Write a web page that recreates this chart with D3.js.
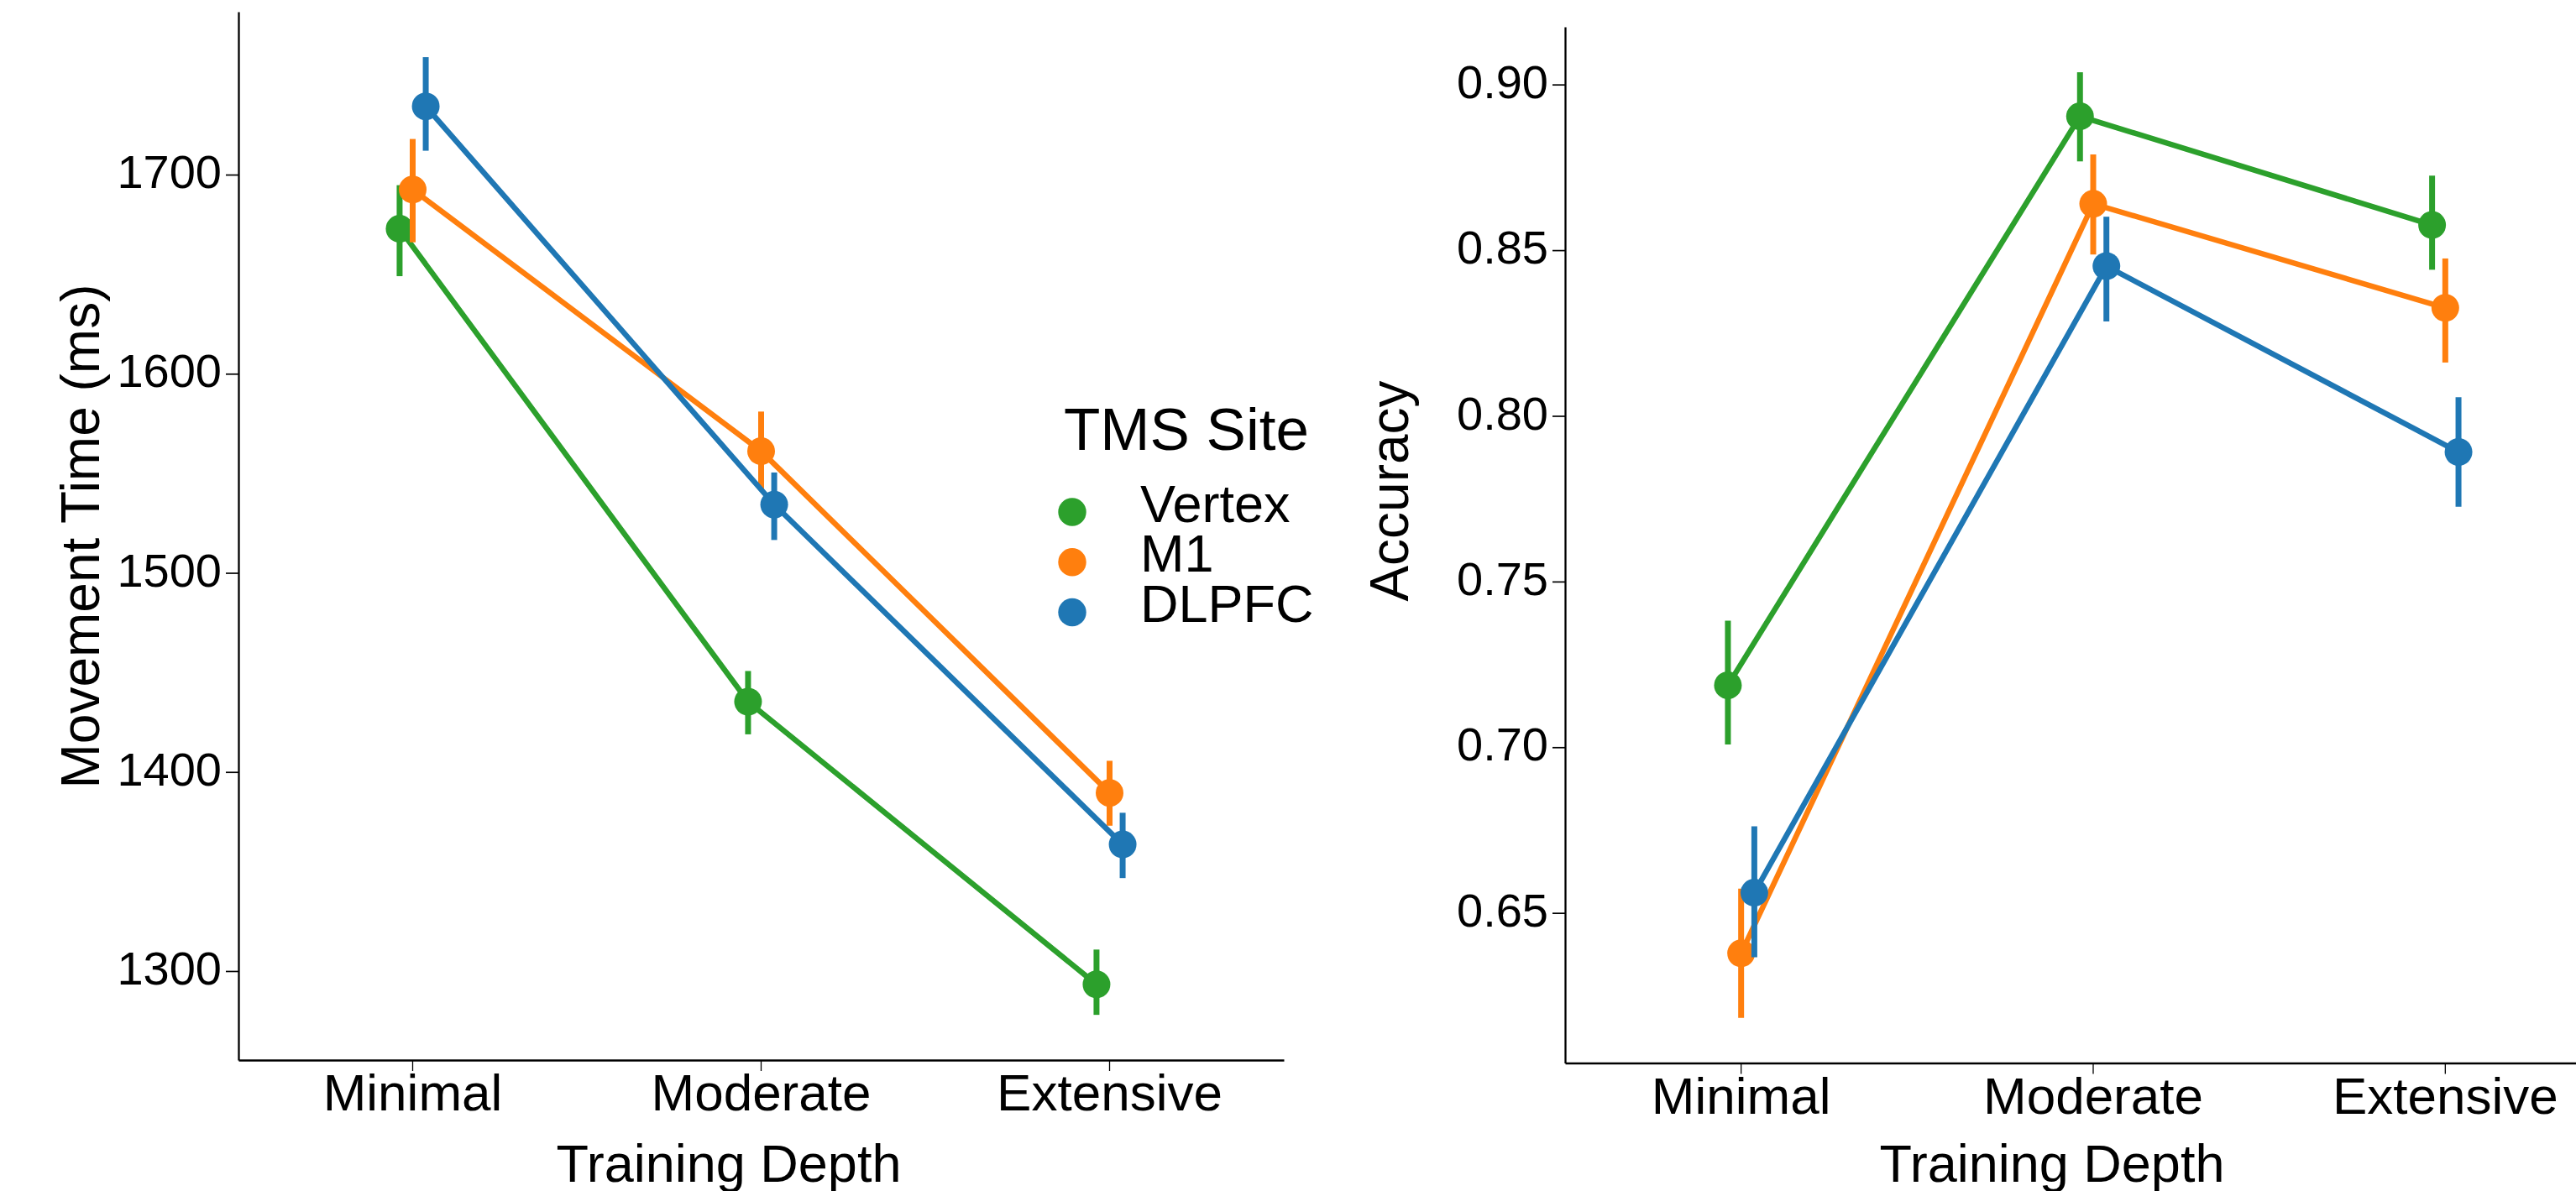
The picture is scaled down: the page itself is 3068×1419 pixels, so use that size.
<!DOCTYPE html>
<head>
    <meta charset="utf-8">
    <script src="https://d3js.org/d3.v7.min.js"></script>
    <style>
      body { margin: 0; background: #fff; }
      text { font-family: "Liberation Sans", Arial, sans-serif; fill: #000; }
    </style>
</head>

<body>
    <div id="chart"></div>
</body>

<script>

  // categories and series
  const depths = ["Minimal", "Moderate", "Extensive"];
  const sites = ["Vertex", "M1", "DLPFC"];
  const siteColors = ["#2ca02c", "#ff7f0e", "#1f77b4"];

  // movement time (ms): mean, lower and upper CI per site
  const mtMean = {
    Vertex: [1672.8, 1435.3, 1293.3],
    M1:     [1692.5, 1561.1, 1389.5],
    DLPFC:  [1734.3, 1534.3, 1363.6]
  };
  const mtLow = {
    Vertex: [1649.0, 1418.9, 1278.0],
    M1:     [1666.0, 1542.0, 1373.0],
    DLPFC:  [1712.0, 1516.5, 1346.7]
  };
  const mtHigh = {
    Vertex: [1694.7, 1450.7, 1310.8],
    M1:     [1717.9, 1581.0, 1405.6],
    DLPFC:  [1759.0, 1550.4, 1379.5]
  };

  // accuracy: mean, lower and upper CI per site
  const accMean = {
    Vertex: [0.7187, 0.8904, 0.8576],
    M1:     [0.6378, 0.8640, 0.8326],
    DLPFC:  [0.6561, 0.8452, 0.7891]
  };
  const accLow = {
    Vertex: [0.7008, 0.8768, 0.8441],
    M1:     [0.6183, 0.8487, 0.8161],
    DLPFC:  [0.6366, 0.8285, 0.7726]
  };
  const accHigh = {
    Vertex: [0.7382, 0.9037, 0.8725],
    M1:     [0.6573, 0.8789, 0.8475],
    DLPFC:  [0.6761, 0.8601, 0.8056]
  };

  // tick values
  const mtTicks = [1300, 1400, 1500, 1600, 1700];
  const accTicks = [0.65, 0.70, 0.75, 0.80, 0.85, 0.90];

  const W = 3068, H = 1419;
  const color = d3.scaleOrdinal().domain(sites).range(siteColors);

  const svg = d3.select("#chart")
    .append("svg")
    .attr("width", W)
    .attr("height", H);

  svg.append("rect").attr("width", W).attr("height", H).attr("fill", "#fff");

  function panel(opt) {
    const x = d3.scaleBand()
      .domain(depths)
      .range([opt.left, opt.right]);

    const y = d3.scaleLinear()
      .domain(opt.domain)
      .range([opt.bottom, opt.top]);

    const dodge = x.bandwidth() * 0.0375;
    const px = (c, s) => x(c) + x.bandwidth() / 2 + (sites.indexOf(s) - 1) * dodge;

    // X axis
    const gx = svg.append("g")
      .attr("transform", `translate(0, ${opt.bottom})`)
      .call(d3.axisBottom(x).tickSizeInner(13).tickSizeOuter(0).tickPadding(3));
    gx.select(".domain").attr("stroke-width", 2.3);
    gx.selectAll(".tick line").attr("stroke-width", 1.3);
    gx.selectAll("text")
      .style("font-size", "62px")
      .style("font-family", "'Liberation Sans', Arial, sans-serif");

    // Y axis
    const gy = svg.append("g")
      .attr("transform", `translate(${opt.left}, 0)`)
      .call(d3.axisLeft(y).tickValues(opt.ticks).tickFormat(opt.fmt)
        .tickSizeInner(15).tickSizeOuter(0).tickPadding(5));
    gy.select(".domain").attr("stroke-width", 2.3);
    gy.selectAll(".tick line").attr("stroke-width", 1.7);
    gy.selectAll("text")
      .attr("dy", "0.28em")
      .style("font-size", "56px")
      .style("font-family", "'Liberation Sans', Arial, sans-serif");

    // axis titles
    svg.append("text")
      .attr("x", opt.xTitleX)
      .attr("y", 1408)
      .attr("text-anchor", "middle")
      .style("font-size", "63px")
      .text("Training Depth");

    svg.append("text")
      .attr("transform", `translate(${opt.yTitleX}, ${opt.yTitleY}) rotate(-90)`)
      .attr("text-anchor", "middle")
      .style("font-size", "64px")
      .text(opt.yTitle);

    // series: line, error bars, points
    sites.forEach(s => {
      const pts = depths.map((c, i) => ({
        c: c, m: opt.mean[s][i], lo: opt.low[s][i], hi: opt.high[s][i]
      }));
      const g = svg.append("g");

      g.append("path")
        .datum(pts)
        .attr("fill", "none")
        .attr("stroke", color(s))
        .attr("stroke-width", 6.5)
        .attr("d", d3.line().x(d => px(d.c, s)).y(d => y(d.m)));

      g.selectAll("line.err")
        .data(pts)
        .join("line")
        .attr("class", "err")
        .attr("x1", d => px(d.c, s))
        .attr("x2", d => px(d.c, s))
        .attr("y1", d => y(d.lo))
        .attr("y2", d => y(d.hi))
        .attr("stroke", color(s))
        .attr("stroke-width", 7);

      g.selectAll("circle")
        .data(pts)
        .join("circle")
        .attr("cx", d => px(d.c, s))
        .attr("cy", d => y(d.m))
        .attr("r", 16.5)
        .attr("fill", color(s));
    });
  }

  panel({
    left: 284, right: 1529, top: 14, bottom: 1263,
    domain: [1255.3, 1781.8],
    ticks: mtTicks, fmt: d3.format("d"),
    mean: mtMean, low: mtLow, high: mtHigh,
    yTitle: "Movement Time (ms)", yTitleX: 118, yTitleY: 639,
    xTitleX: 868
  });

  panel({
    left: 1864, right: 3122, top: 32, bottom: 1266.5,
    domain: [0.6047, 0.9174],
    ticks: accTicks, fmt: d3.format(".2f"),
    mean: accMean, low: accLow, high: accHigh,
    yTitle: "Accuracy", yTitleX: 1677, yTitleY: 585,
    xTitleX: 2444
  });

  // Legend
  const legend = svg.append("g");
  legend.append("text")
    .attr("x", 1267)
    .attr("y", 536)
    .style("font-size", "71px")
    .text("TMS Site");

  const rowY = d3.scalePoint().domain(sites).range([610, 729.5]);
  const rows = legend.selectAll("g.row")
    .data(sites)
    .join("g")
    .attr("class", "row")
    .attr("transform", d => `translate(0, ${rowY(d)})`);
  rows.append("circle")
    .attr("cx", 1277)
    .attr("r", 16.7)
    .attr("fill", d => color(d));
  rows.append("text")
    .attr("x", 1358)
    .attr("y", 11.5)
    .style("font-size", "63px")
    .text(d => d);

</script>
